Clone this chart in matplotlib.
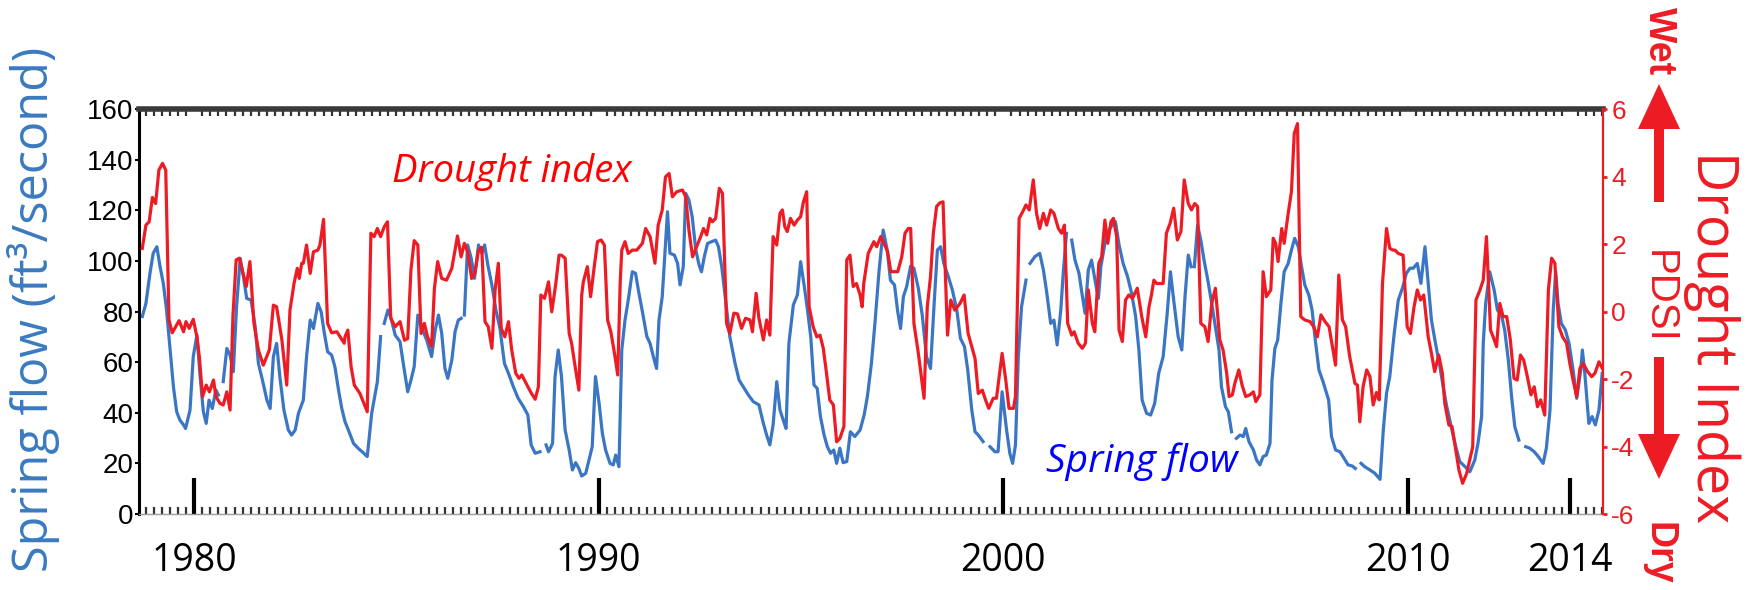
import numpy as np
import matplotlib
matplotlib.use("Agg")
import matplotlib.pyplot as plt
from matplotlib.ticker import MultipleLocator, FixedLocator
from matplotlib.patches import FancyArrow
from matplotlib.transforms import IdentityTransform

nan = float("nan")

# ---------------- data ----------------
# Drought index (PDSI), right axis
red_year = [
    1978.72, 1978.81, 1978.89, 1978.97, 1979.05, 1979.13, 1979.22, 1979.30, 1979.38, 1979.46,
    1979.57, 1979.63, 1979.74, 1979.80, 1979.88, 1979.98, 1980.07, 1980.13, 1980.21, 1980.30,
    1980.38, 1980.48, 1980.54, 1980.64, 1980.72, 1980.81, 1980.89, 1980.96, 1981.04, 1981.12,
    1981.29, 1981.38, 1981.48, 1981.59, 1981.71, 1981.86, 1981.96, 1982.04, 1982.17, 1982.29,
    1982.37, 1982.47, 1982.55, 1982.60, 1982.66, 1982.70, 1982.78, 1982.87, 1982.95, 1983.06,
    1983.11, 1983.20, 1983.30, 1983.40, 1983.53, 1983.61, 1983.71,
    1983.73, 1983.80, 1983.88, 1983.96, 1984.10, 1984.18, 1984.28, 1984.37, 1984.45, 1984.53,
    1984.61, 1984.70, 1984.78, 1984.86, 1984.97, 1985.09, 1985.20, 1985.28, 1985.36, 1985.44,
    1985.53, 1985.61, 1985.69, 1985.77, 1985.87, 1985.94, 1986.02, 1986.12, 1986.24, 1986.37,
    1986.51, 1986.60, 1986.68, 1986.76, 1986.86, 1986.94, 1987.03, 1987.11, 1987.19, 1987.27,
    1987.36, 1987.44, 1987.52, 1987.59, 1987.68, 1987.77, 1987.85, 1987.95, 1988.03, 1988.10,
    1988.25, 1988.34, 1988.43, 1988.51, 1988.57, 1988.66, 1988.76, 1988.84, 1988.94, 1989.02,
    1989.08, 1989.17, 1989.27, 1989.33, 1989.43, 1989.51, 1989.58, 1989.62, 1989.72, 1989.80,
    1989.89, 1989.97, 1990.06, 1990.14, 1990.22, 1990.30, 1990.39, 1990.47, 1990.53, 1990.57,
    1990.65, 1990.73, 1990.83, 1990.94, 1991.08, 1991.16, 1991.27, 1991.39, 1991.47, 1991.57,
    1991.65, 1991.74, 1991.82, 1991.93, 1992.07, 1992.15, 1992.23, 1992.32, 1992.42, 1992.52,
    1992.59, 1992.67, 1992.75, 1992.81, 1992.89, 1992.98, 1993.06, 1993.16, 1993.24, 1993.34,
    1993.43, 1993.53, 1993.63, 1993.74, 1993.80, 1993.89, 1993.96, 1994.07,
    1994.15, 1994.23, 1994.31, 1994.40, 1994.48, 1994.54, 1994.60, 1994.66, 1994.74, 1994.83,
    1994.91, 1994.99, 1995.06, 1995.14, 1995.20, 1995.30, 1995.39, 1995.47, 1995.55, 1995.63,
    1995.71, 1995.80, 1995.88, 1995.96, 1996.06, 1996.13, 1996.21, 1996.29, 1996.37, 1996.46,
    1996.51, 1996.55, 1996.66, 1996.74, 1996.80, 1996.87, 1996.97, 1997.05, 1997.14, 1997.22,
    1997.39, 1997.49, 1997.57, 1997.65, 1997.71, 1997.79, 1997.90, 1998.04, 1998.12, 1998.20,
    1998.27, 1998.35, 1998.43, 1998.51, 1998.57, 1998.62, 1998.70, 1998.80, 1998.93, 1999.03,
    1999.13, 1999.22, 1999.30, 1999.38,
    1999.48, 1999.56, 1999.64, 1999.75, 1999.83, 1999.97, 2000.06, 2000.14, 2000.25, 2000.30,
    2000.39, 2000.48, 2000.56, 2000.64, 2000.74, 2000.82, 2000.90, 2000.99, 2001.07, 2001.17,
    2001.25, 2001.36, 2001.44, 2001.51, 2001.59, 2001.69, 2001.75, 2001.85, 2001.95, 2002.03,
    2002.10, 2002.20, 2002.26, 2002.36, 2002.43, 2002.51, 2002.58, 2002.66, 2002.72, 2002.80,
    2002.86, 2002.94, 2003.02, 2003.10, 2003.19, 2003.31, 2003.42, 2003.52, 2003.60, 2003.66,
    2003.72, 2003.79, 2003.95, 2004.03, 2004.12, 2004.21, 2004.30, 2004.39, 2004.47,
    2004.57, 2004.65, 2004.73, 2004.80, 2004.88, 2004.98, 2005.06, 2005.15, 2005.24, 2005.35,
    2005.43, 2005.52, 2005.58, 2005.66, 2005.72, 2005.82, 2005.90, 2005.99, 2006.09, 2006.18,
    2006.24, 2006.34, 2006.42, 2006.50, 2006.61, 2006.67, 2006.73, 2006.79, 2006.88, 2006.94,
    2007.04, 2007.12, 2007.19, 2007.27, 2007.35, 2007.45, 2007.58, 2007.67, 2007.76, 2007.85,
    2007.95, 2008.05, 2008.21, 2008.29, 2008.38, 2008.46, 2008.56, 2008.69, 2008.75, 2008.81,
    2008.89, 2008.98, 2009.06, 2009.14, 2009.22, 2009.29, 2009.37, 2009.47, 2009.55, 2009.63,
    2009.68, 2009.76, 2009.88, 2009.98, 2010.06, 2010.15, 2010.23, 2010.31, 2010.39, 2010.50,
    2010.58, 2010.66, 2010.76, 2010.85, 2010.91, 2011.01, 2011.09, 2011.18, 2011.26, 2011.35,
    2011.45, 2011.60, 2011.68, 2011.78, 2011.86, 2011.94, 2012.04, 2012.12, 2012.19, 2012.27,
    2012.35, 2012.44, 2012.53, 2012.62, 2012.70, 2012.78, 2012.86, 2012.95, 2013.04, 2013.12,
    2013.20, 2013.28, 2013.38, 2013.47, 2013.55, 2013.63, 2013.73, 2013.82, 2013.92, 2014.00,
    2014.08, 2014.17, 2014.25, 2014.33, 2014.44, 2014.54, 2014.62, 2014.72, 2014.80,
]
red_pdsi = [
    1.87, 2.56, 2.66, 3.38, 3.20, 4.19, 4.39, 4.19, -0.25, -0.63,
    -0.40, -0.27, -0.60, -0.30, -0.50, -0.23, -0.75, -1.34, -2.52, -2.18,
    -2.38, -2.03, -2.52, -2.72, -2.77, -2.38, -2.92, -0.15, 1.53, 1.58,
    0.74, 1.48, -0.35, -1.14, -1.59, -1.14, 0.19, 0.14, -0.84, -2.18,
    0.04, 0.83, 1.28, 0.98, 1.43, 1.43, 1.97, 1.13, 1.77, 1.82,
    1.97, 2.73, -0.35, -0.63, -0.60, -0.75, -0.94,
    -0.75, -0.55, -1.63, -2.18, -2.43, -2.67, -2.97, 2.32, 2.22, 2.46,
    2.22, 2.51, 2.66, -0.20, -0.45, -0.30, -0.85, -0.80, 1.23, 2.10,
    1.97, -0.65, -0.35, -0.75, -1.04, 0.69, 1.48, 0.98, 0.93, 1.28,
    2.24, 1.62, 2.02, 1.77, 0.98, 1.13, 1.82, 1.90, -0.30, -0.45,
    -1.09, 0.64, 1.43, -0.50, -0.75, -0.30, -1.14, -1.83, -1.98, -1.88,
    -2.23, -2.43, -2.60, -2.23, 0.49, 0.39, 0.88, -0.01, 0.83, 1.67,
    1.67, 1.58, -0.65, -0.94, -1.73, -2.33, 0.49, 0.88, 1.33, 0.44,
    1.33, 2.07, 2.12, 1.97, -0.25, -0.60, -1.24, -1.88, 0.83, 1.82,
    2.07, 1.72, 1.82, 1.82, 2.02, 2.46, 2.22, 1.43, 2.56, 3.01,
    3.99, 4.09, 3.40, 3.55, 3.60, 3.40, 2.41, 1.62, 1.92, 2.22,
    2.46, 2.27, 2.76, 2.66, 2.76, 3.65, 3.50, -0.35, -0.65, -0.05,
    -0.07, -0.50, -0.20, -0.25, -0.60, 0.54, -0.20, -0.84,
    -0.25, -0.70, 2.22, 1.97, 2.91, 3.01, 2.51, 2.37, 2.76, 2.56,
    2.71, 2.81, 3.25, 3.55, 0.14, -0.45, -0.75, -0.70, -1.09, -1.83,
    -2.62, -2.77, -3.86, -3.76, -3.41, 1.53, 1.67, 0.74, 0.83, 0.49,
    0.14, 0.83, 1.72, 1.92, 2.07, 1.92, 2.22, 2.02, 1.77, 1.18,
    1.18, 1.62, 2.32, 2.46, 2.46, -0.35, -1.24, -2.57, 0.14, 1.03,
    2.32, 3.11, 3.22, 3.25, 1.03, -0.70, 0.34, 0.04, 0.24, 0.49,
    -0.65, -1.04, -1.39, -2.43,
    -2.33, -2.62, -2.87, -2.57, -2.57, -1.24, -2.03, -2.87, -2.87, -2.52,
    2.76, 2.96, 3.16, 3.01, 3.90, 2.91, 2.46, 2.91, 2.56, 3.01,
    2.91, 2.46, 2.32, 2.56, -0.35, -0.70, -0.60, -0.94, -1.09, -0.94,
    0.64, -0.35, -0.60, 1.43, 1.62, 2.71, 2.02, 2.66, 2.76, 2.22,
    -0.55, -0.89, 0.34, 0.49, 0.39, 0.69, -0.15, -0.75, 0.14, 0.49,
    0.93, 0.83, 0.83, 2.32, 2.61, 3.06, 2.12, 2.37, 3.90,
    3.20, 3.01, 3.20, 3.11, -0.35, -0.45, -0.89, 0.24, 0.69, -0.84,
    -1.14, -1.83, -2.52, -2.47, -2.13, -1.73, -2.18, -2.52, -2.47, -2.38,
    -2.67, -2.47, 1.18, 0.44, 0.64, 2.17, 2.02, 1.48, 2.46, 2.02,
    2.91, 3.55, 5.28, 5.57, -0.15, -0.25, -0.30, -0.45, -0.75, -0.10,
    -0.30, -0.45, -1.59, 1.08, -0.25, -0.45, -1.34, -2.13, -2.18, -3.27,
    -2.23, -1.73, -1.93, -2.77, -2.40, -2.62, 0.83, 2.46, 1.87, 1.82,
    1.82, 1.72, 1.67, -0.45, -0.65, 0.14, 0.64, 0.34, 0.49, -0.75,
    -1.24, -1.78, -1.29, -1.83, -2.72, -3.36, -3.41, -4.10, -4.70, -5.09,
    -4.80, -4.01, 0.34, 0.64, 0.93, 2.22, -0.55, -0.80, -1.04, 0.24,
    -0.15, -0.15, -0.84, -1.98, -2.03, -1.29, -1.44, -1.93, -2.47, -2.23,
    -2.82, -2.62, -3.07, 0.64, 1.58, 1.43, -0.45, -0.75, -0.94, -1.54,
    -2.03, -2.52, -1.68, -1.54, -1.78, -1.93, -1.83, -1.49, -1.68,
]

# Spring flow (ft3/second), left axis; nan = break in the record
blue_year = [
    1978.72, 1978.81, 1978.91, 1978.99, 1979.08, 1979.16, 1979.24, 1979.32, 1979.41, 1979.49,
    1979.57, 1979.65, 1979.74, 1979.79, 1979.90, 1979.98, 1980.07, 1980.15, 1980.23, 1980.30,
    1980.37, 1980.45, 1980.54, 1980.60, 1980.66, 1980.72, 1980.81, 1980.89, 1980.97, 1981.05,
    1981.14, 1981.22, 1981.30, 1981.41, 1981.51, 1981.59, 1981.69, 1981.80, 1981.88, 1981.96,
    1982.04, 1982.12, 1982.22, 1982.33, 1982.41, 1982.50, 1982.58, 1982.70, 1982.78, 1982.87,
    1982.95, 1983.06, 1983.14, 1983.22, 1983.30, 1983.40, 1983.48, 1983.57, 1983.65,
    1983.73, 1983.83, 1983.94, 1984.06, 1984.18, 1984.28, 1984.39, 1984.53, 1984.61, 1984.65,
    1984.70, 1984.79, 1984.87, 1984.97, 1985.09, 1985.17, 1985.28, 1985.36, 1985.44, 1985.53,
    1985.63, 1985.75, 1985.87, 1985.96, 1986.04, 1986.12, 1986.20, 1986.27, 1986.37, 1986.45,
    1986.53, 1986.60, 1986.64, 1986.68, 1986.76, 1986.85, 1986.93, 1987.03, 1987.11, 1987.18,
    1987.26, 1987.36, 1987.46, 1987.56, 1987.67, 1987.77, 1987.89, 1988.01, 1988.14, 1988.25,
    1988.33, 1988.43, 1988.55, 1988.62, 1988.70, 1988.76, 1988.86, 1988.92, 1989.00,
    1989.08, 1989.17, 1989.27, 1989.35, 1989.43, 1989.51, 1989.58, 1989.68, 1989.76, 1989.84,
    1989.92, 1990.01, 1990.09, 1990.17, 1990.28, 1990.36, 1990.42, 1990.50, 1990.57, 1990.65,
    1990.73, 1990.83, 1990.91, 1990.98, 1991.08, 1991.19, 1991.27, 1991.35, 1991.43, 1991.49,
    1991.57, 1991.64, 1991.70, 1991.76, 1991.87, 1991.95, 1992.01, 1992.09, 1992.15, 1992.23,
    1992.31, 1992.40, 1992.48, 1992.54, 1992.61, 1992.69, 1992.79, 1992.89, 1992.96, 1993.04,
    1993.14, 1993.24, 1993.37, 1993.47, 1993.57, 1993.70, 1993.82, 1993.96, 1994.07, 1994.15,
    1994.23, 1994.31, 1994.40, 1994.48, 1994.56, 1994.63, 1994.70, 1994.81, 1994.91, 1994.99,
    1995.07, 1995.15, 1995.24, 1995.32, 1995.40, 1995.48, 1995.57, 1995.65, 1995.73, 1995.81,
    1995.88, 1995.96, 1996.04, 1996.13, 1996.22, 1996.33, 1996.46, 1996.56, 1996.64, 1996.74,
    1996.83, 1996.93, 1997.03, 1997.13, 1997.21, 1997.31, 1997.39, 1997.46, 1997.53, 1997.61,
    1997.71, 1997.79, 1997.90, 1998.00, 1998.10, 1998.20, 1998.29, 1998.37, 1998.45, 1998.53,
    1998.64, 1998.74, 1998.85, 1998.94, 1999.04, 1999.12, 1999.22, 1999.30,
    1999.38, 1999.50, 1999.58, 1999.67, 1999.79, 1999.87, 1999.97, 2000.08, 2000.16, 2000.23,
    2000.30, 2000.37, 2000.45, 2000.56, 2000.61, 2000.66, 2000.78, 2000.90, 2000.99, 2001.07,
    2001.17, 2001.25, 2001.33, 2001.42, 2001.48, 2001.56, 2001.62, 2001.69, 2001.77, 2001.87,
    2001.93, 2002.02, 2002.10, 2002.18, 2002.28, 2002.35, 2002.41, 2002.51, 2002.61, 2002.72,
    2002.77, 2002.86, 2002.96, 2003.07, 2003.17, 2003.27, 2003.35, 2003.43, 2003.54, 2003.64,
    2003.74, 2003.84, 2003.95, 2004.05, 2004.13, 2004.21, 2004.32, 2004.41, 2004.49,
    2004.57, 2004.64, 2004.68, 2004.72, 2004.80, 2004.88, 2004.96, 2005.06, 2005.15, 2005.24,
    2005.33, 2005.39, 2005.49, 2005.56, 2005.64, 2005.70, 2005.76, 2005.85, 2005.93, 2005.99,
    2006.07, 2006.18, 2006.26, 2006.34, 2006.42, 2006.50, 2006.59, 2006.64, 2006.71, 2006.78,
    2006.86, 2006.94, 2007.04, 2007.12, 2007.20, 2007.29, 2007.37, 2007.45, 2007.55, 2007.63,
    2007.71, 2007.80, 2007.90, 2008.04, 2008.11, 2008.21, 2008.32, 2008.42, 2008.52, 2008.62,
    2008.70, 2008.77, 2008.84, 2008.93, 2009.06, 2009.18, 2009.31, 2009.39, 2009.47, 2009.55,
    2009.66,
    2009.76, 2009.86, 2009.96, 2010.05, 2010.13, 2010.23, 2010.32, 2010.42, 2010.50, 2010.58,
    2010.68, 2010.79, 2010.87, 2010.95, 2011.04, 2011.16, 2011.28, 2011.41, 2011.53, 2011.65,
    2011.73, 2011.82, 2011.86, 2011.92, 2012.02, 2012.13, 2012.21, 2012.31, 2012.39, 2012.48,
    2012.56, 2012.64, 2012.74, 2012.83, 2012.91, 2013.01, 2013.12, 2013.22, 2013.34, 2013.42,
    2013.51, 2013.59, 2013.65, 2013.71, 2013.79, 2013.89, 2013.98, 2014.08, 2014.17, 2014.27,
    2014.31, 2014.37, 2014.47, 2014.55, 2014.63, 2014.72, 2014.80,
]
blue_flow = [
    78.0, 83.2, 95.1, 103.0, 105.6, 97.7, 91.1, 80.6, 64.8, 50.3,
    40.4, 37.1, 35.2, 33.8, 41.1, 62.2, 70.7, 54.3, 40.4, 35.8,
    45.0, 41.7, 49.0, 47.0, nan, 52.3, 65.4, 62.8, 56.2, 81.9,
    101.0, 93.8, 85.2, 84.5, 74.0, 59.5, 52.9, 45.0, 41.7, 62.2,
    67.4, 54.3, 41.1, 33.2, 31.2, 33.2, 39.8, 45.0, 62.2, 76.6,
    73.3, 83.2, 79.9, 71.4, 64.1, 62.8, 58.2, 49.0, 41.7,
    36.5, 32.5, 27.9, 25.9, 24.2, 22.7, 39.8, 52.3, 70.1, nan,
    75.3, 80.6, 77.3, 70.7, 68.1, 59.5, 48.3, 52.9, 58.2, 78.6,
    73.3, 68.7, 62.2, 72.7, 78.6, 71.4, 57.5, 53.6, 60.8, 72.0,
    76.6, 77.3, nan, 78.6, 106.3, 101.0, 93.1, 106.3, 103.0, 106.3,
    98.4, 90.5, 80.6, 73.3, 59.5, 55.6, 50.3, 45.7, 42.4, 39.1,
    27.3, 24.0, 24.6, nan, 27.3, 24.6, 27.9, 54.2, 64.8,
    54.3, 33.2, 25.3, 17.4, 20.3, 18.0, 15.0, 16.1, 21.3, 26.6,
    54.3, 43.7, 31.9, 25.3, 20.0, 19.4, 23.3, 18.7, 64.8, 76.6,
    84.5, 95.7, 95.1, 88.5, 79.9, 70.1, 67.4, 62.2, 57.5, 76.6,
    85.9, 104.3, 119.4, 103.0, 102.3, 99.0, 90.5, 97.7, 126.7, 124.0,
    117.5, 104.3, 98.4, 95.7, 101.7, 106.9, 107.6, 108.2, 105.6, 97.7,
    83.9, 70.1, 59.5, 52.9, 50.3, 47.0, 44.4, 43.1, 35.8, 31.2,
    27.3, 35.2, 52.3, 41.1, 37.1, 33.8, 67.4, 82.6, 86.5, 99.7,
    91.1, 81.9, 70.1, 51.0, 49.6, 38.5, 31.2, 26.6, 24.0, 25.3,
    20.0, 26.0, 20.3, 20.7, 32.5, 30.6, 33.2, 39.1, 46.4, 59.5,
    76.0, 96.4, 112.2, 104.3, 92.4, 90.5, 79.9, 73.3, 85.9, 89.8,
    98.0, 97.1, 89.1, 78.0, 62.2, 57.5, 83.2, 104.3, 105.6, 99.0,
    93.8, 88.5, 80.6, 69.4, 66.1, 56.9, 41.1, 32.5,
    31.2, 28.6, nan, 26.6, 24.6, 24.6, 48.3, 33.2, 24.0, 20.0,
    27.3, 62.2, 81.9, 92.4, nan, 99.0, 101.7, 103.0, 96.4, 87.8,
    75.3, 76.6, 66.8, 80.6, 95.1, 110.9, nan, 108.2, 100.3, 95.1,
    88.5, 79.3, 96.4, 100.3, 91.1, 85.2, 97.7, 106.9, 112.2, 114.8,
    115.5, 106.3, 99.0, 93.8, 87.2, 78.0, 64.8, 45.0, 39.8, 39.1,
    43.7, 55.6, 62.2, 79.3, 95.7, 84.5, 70.1, 64.8, 85.9,
    102.3, 97.7, nan, 97.7, 114.2, 108.2, 100.3, 91.8, 83.2, 74.0,
    64.8, 50.3, 42.4, 40.4, 32.5, nan, 29.9, 31.2, 30.6, 33.8,
    28.6, 25.3, 21.3, 19.4, 22.7, 23.3, 27.9, 52.9, 65.4, 68.7,
    83.2, 95.7, 99.0, 104.3, 108.9, 105.6, 97.7, 90.5, 86.5, 80.6,
    68.7, 56.9, 52.3, 45.0, 30.6, 25.3, 24.6, 22.0, 19.4, 19.0,
    18.0, nan, 20.0, 18.7, 17.4, 16.1, 13.7, 33.2, 47.7, 54.3,
    71.4,
    84.5, 89.1, 95.1, 97.1, 97.1, 99.0, 91.1, 105.6, 91.1, 76.6,
    67.4, 58.2, 50.3, 43.1, 36.5, 27.9, 20.7, 18.7, 16.7, 21.3,
    27.9, 38.5, 67.4, 83.2, 95.7, 88.5, 80.6, 78.6, 72.7, 60.8,
    46.4, 34.5, 29.2, nan, 26.6, 26.0, 24.6, 22.7, 20.0, 26.0,
    41.1, 80.6, 95.7, 83.2, 75.3, 72.7, 67.4, 56.9, 45.7, 56.9,
    64.8, 55.6, 35.8, 38.5, 35.2, 41.1, 55.6,
]

x_ticks = [1980, 1990, 2000, 2010, 2014]
x_ticklabels = ["1980", "1990", "2000", "2010", "2014"]
left_ticks = [0, 20, 40, 60, 80, 100, 120, 140, 160]
right_ticks = [-6, -4, -2, 0, 2, 4, 6]

RED = "#ed1c24"
BLUE = "#3a76c4"
LABEL_BLUE = "#3a7abf"
NARROW = ["Liberation Sans Narrow", "Liberation Sans", "DejaVu Sans"]
SANS = ["Open Sans", "DejaVu Sans"]

fig = plt.figure(figsize=(17.6, 5.9), dpi=100)
ax = fig.add_axes([0.0790, 0.1288, 0.8318, 0.6864])
ax2 = ax.twinx()

ax.plot(blue_year, blue_flow, color=BLUE, lw=2.3, solid_joinstyle="round")
ax2.plot(red_year, red_pdsi, color=RED, lw=2.3, solid_joinstyle="round")

ax.set_xlim(1978.64, 2014.82)
ax.set_ylim(0, 160)
ax2.set_ylim(-6, 6)

# x axis
ax.xaxis.set_major_locator(FixedLocator(x_ticks))
ax.set_xticklabels(x_ticklabels, fontsize=27, family=SANS)
ax.xaxis.set_minor_locator(MultipleLocator(0.2))
ax.tick_params(axis="x", which="major", direction="in", length=26, width=3,
               color="black", top=False, pad=20)
ax.tick_params(axis="x", which="minor", direction="in", length=5, width=1.6,
               color="#333333", top=True, bottom=True)

# left axis
ax.set_yticks(left_ticks)
ax.set_yticklabels([str(t) for t in left_ticks], fontsize=20, family=NARROW)
ax.tick_params(axis="y", which="major", direction="out", length=3, width=1.5, pad=1)

# right axis
ax2.set_yticks(right_ticks)
ax2.set_yticklabels([str(t) for t in right_ticks], fontsize=19, family=NARROW, color=RED)
ax2.tick_params(axis="y", direction="out", length=3, width=2, color=RED, pad=3)

# spines
ax.spines["left"].set_linewidth(2.2)
ax.spines["left"].set_color("black")
ax.spines["right"].set_visible(False)
ax.spines["top"].set_linewidth(4)
ax.spines["top"].set_color("#3a3a3a")
ax.spines["bottom"].set_linewidth(1)
ax.spines["bottom"].set_color("#9a9a9a")
for s in ("top", "bottom", "left"):
    ax2.spines[s].set_visible(False)
ax2.spines["right"].set_color(RED)
ax2.spines["right"].set_linewidth(1.6)

# annotations
ax.text(1984.9, 131, "Drought index", color="#ff0000", fontsize=27.5,
        style="italic", family=SANS, ha="left", va="baseline")
ax.text(2001.05, 16.6, "Spring flow", color="#0000ff", fontsize=28,
        style="italic", family=SANS, ha="left", va="baseline")

# axis titles
fig.text(0.0193, 0.4763, "Spring flow (ft³/second)", rotation=90, color=LABEL_BLUE,
         fontsize=35, family=SANS, ha="center", va="center")
fig.text(0.9727, 0.4288, "Drought Index", rotation=270, color=RED,
         fontsize=40, family=SANS, ha="center", va="center")
fig.text(0.9426, 0.4966, "PDSI", rotation=270, color=RED,
         fontsize=29, family=NARROW, ha="center", va="center")
fig.text(0.9426, 0.9305, "Wet", rotation=270, color=RED, fontweight="bold",
         fontsize=27, family=NARROW, ha="center", va="center")
fig.text(0.9426, 0.0627, "Dry", rotation=270, color=RED, fontweight="bold",
         fontsize=27, family=NARROW, ha="center", va="center")

# Wet / Dry arrows (pixel coordinates)
fig.add_artist(FancyArrow(1659, 388, 0, 118, width=10, head_width=42, head_length=45,
                          length_includes_head=True, color=RED, lw=0,
                          transform=IdentityTransform()))
fig.add_artist(FancyArrow(1659, 233, 0, -122, width=10, head_width=42, head_length=45,
                          length_includes_head=True, color=RED, lw=0,
                          transform=IdentityTransform()))

fig.savefig("out.png", dpi=100)
